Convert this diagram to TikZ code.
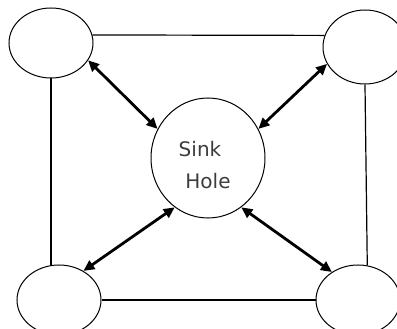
\documentclass[tikz,border=0pt]{standalone}
\usepackage{fontspec}
\setmainfont{DejaVu Sans}
\usetikzlibrary{shapes.geometric,arrows.meta}
\definecolor{txtgray}{RGB}{60,60,60}
\begin{document}
\begin{tikzpicture}[x=1pt,y=-1pt,
  site/.style={draw,ellipse,line width=1pt,minimum width=84pt,minimum height=70pt,inner sep=0pt},
  link/.style={line width=1.2pt},
  flow/.style={line width=2.8pt,{Triangle[length=11pt,width=10pt]}-{Triangle[length=11pt,width=10pt]}},
  lbl/.style={text=txtgray,font=\fontsize{20}{20}\selectfont,inner sep=0pt}]
\useasboundingbox (0,0) rectangle (397,329);
\node[site] (tl) at (51,43) {};
\node[site,minimum height=74pt] (tr) at (365,47) {};
\node[site] (bl) at (59,300) {};
\node[site] (br) at (358,300) {};
\node[draw,ellipse,line width=1pt,minimum width=114pt,minimum height=120pt,inner sep=0pt] (sink) at (208,158) {};
\node[lbl] (s1) at (200,149) {Sink};
\node[lbl] (s2) at (208,181) {Hole};
\draw[link] (tl.11) -- (tr.164);
\draw[link] (tl.south) -- (tl.south |- bl.north);
\draw[link] (tr.south) -- (br.75);
\draw[link] (bl.east) -- (br.west);
\draw[flow] (tl.-25) -- (sink.150);
\draw[flow] (tr.-156) -- (sink.30);
\draw[flow] (bl.50) -- (sink.236);
\draw[flow] (br.133) -- (sink.-56);
\end{tikzpicture}
\end{document}
